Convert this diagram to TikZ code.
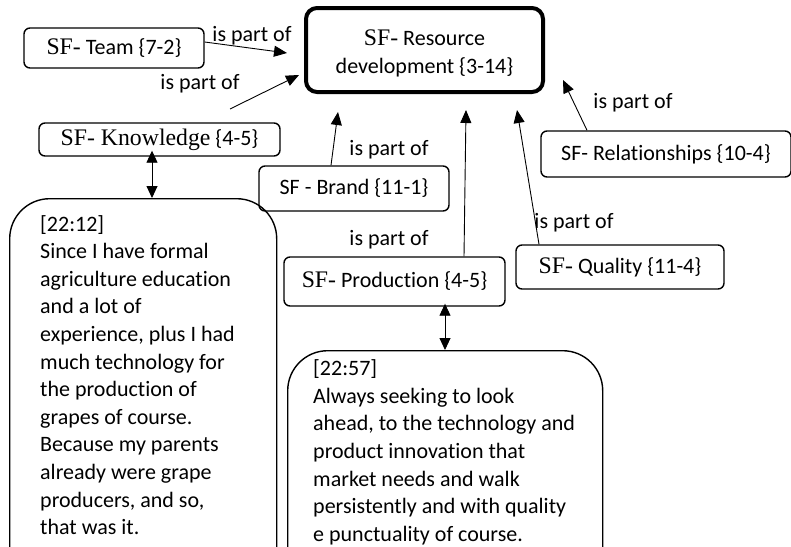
\documentclass[tikz,border=0pt]{standalone}
\usepackage{fontspec}
\setmainfont[Ligatures=CommonOff]{Carlito}
\newfontfamily\serf[Scale=1.08]{Liberation Serif}
\usetikzlibrary{arrows.meta}
\newcommand{\SF}{{\serf SF-}}
\tikzset{
  box/.style={draw, line width=1.4pt, rounded corners=6pt, inner sep=0pt, font=\fontsize{22}{26}\selectfont},
  lbl/.style={font=\fontsize{22}{26}\selectfont, inner sep=0pt},
  arr/.style={line width=0.9pt, -{Triangle[length=13pt,width=11pt]}},
  darr/.style={line width=0.9pt, {Triangle[length=12pt,width=11pt]}-{Triangle[length=12pt,width=11pt]}},
  quote/.style={font=\fontsize{22}{27.6}\selectfont, align=left, anchor=north west, inner sep=0pt}
}
\begin{document}
\begin{tikzpicture}[x=1pt,y=-1pt]
\useasboundingbox (0,0) rectangle (791,546);
\clip (0,0) rectangle (791,546);
% main node
\node[box, line width=4pt, rounded corners=11pt, minimum width=237pt, minimum height=84pt] (res) at (424.5,50) {};
\node[lbl, align=center, font=\fontsize{22}{28}\selectfont] (rest) at (424.5,53.5) {\SF{} Resource\\development \{3-14\}};
% sub factors
\node[box, minimum width=180pt, minimum height=40pt] (team) at (114,48) {\SF{} Team \{7-2\}};
\node[box, minimum width=241pt, minimum height=33pt] (know) at (159.5,139.5) {{\serf SF- Knowledge} \{4-5\}};
\node[box, minimum width=190pt, minimum height=45pt] (brand) at (354,188.5) {SF - Brand \{11-1\}};
\node[box, minimum width=250pt, minimum height=46pt] (rel) at (666,154) {SF- Relationships \{10-4\}};
\node[box, minimum width=208pt, minimum height=44pt] (qual) at (620,267) {\SF{} Quality \{11-4\}};
\node[box, minimum width=221pt, minimum height=49pt] (prod) at (394.5,281.5) {\SF{} Production \{4-5\}};
% quote boxes
\node[draw, line width=1.4pt, rounded corners=40pt, minimum width=267pt, minimum height=400pt, anchor=north west, inner sep=0pt] (q1) at (9,198) {};
\node[quote] (q1t) at (40,215) {[22:12]\\Since I have formal\\agriculture education\\and a lot of\\experience, plus I had\\much technology for\\the production of\\grapes of course.\\Because my parents\\already were grape\\producers, and so,\\that was it.};
\node[draw, line width=1.4pt, rounded corners=40pt, minimum width=315pt, minimum height=300pt, anchor=north west, inner sep=0pt] (q2) at (287,350) {};
\node[quote] (q2t) at (313,359.5) {[22:57]\\Always seeking to look\\ahead, to the technology and\\product innovation that\\market needs and walk\\persistently and with quality\\e punctuality of course.};
% tip coordinates
\coordinate (t1) at (287,53);
\coordinate (s2) at (230,109);
\coordinate (t2) at (299,75);
\coordinate (t3) at (338,112);
\coordinate (t4) at (466,110);
\coordinate (t5) at (517,110);
\coordinate (t6) at (563,80);
\coordinate (k1) at ([xshift=-7.5pt,yshift=6pt]know.south);
\coordinate (k2) at (q1.north -| k1);
\coordinate (p1) at ([xshift=50.5pt,yshift=3pt]prod.south);
\coordinate (p2) at (q2.north -| p1);
% connectors
\draw[arr] ([yshift=6pt]team.east) -- (t1);
\draw[arr] (s2) -- (t2);
\draw[arr] ([xshift=-23pt]brand.north) -- (t3);
\draw[arr] ([xshift=69.5pt]prod.north) -- (t4);
\draw[arr] ([xshift=-81pt]qual.north) -- (t5);
\draw[arr] ([xshift=-79pt]rel.north) -- (t6);
\draw[darr] (k1) -- (k2);
\draw[darr] (p1) -- (p2);
% labels
\node[lbl] (l1) at (252,36) {is part of};
\node[lbl] (l2) at (200,84) {is part of};
\node[lbl] (l3) at (389,150) {is part of};
\node[lbl] (l4) at (389,240) {is part of};
\node[lbl] (l5) at (574,223) {is part of};
\node[lbl] (l6) at (633,103) {is part of};
\end{tikzpicture}
\end{document}
